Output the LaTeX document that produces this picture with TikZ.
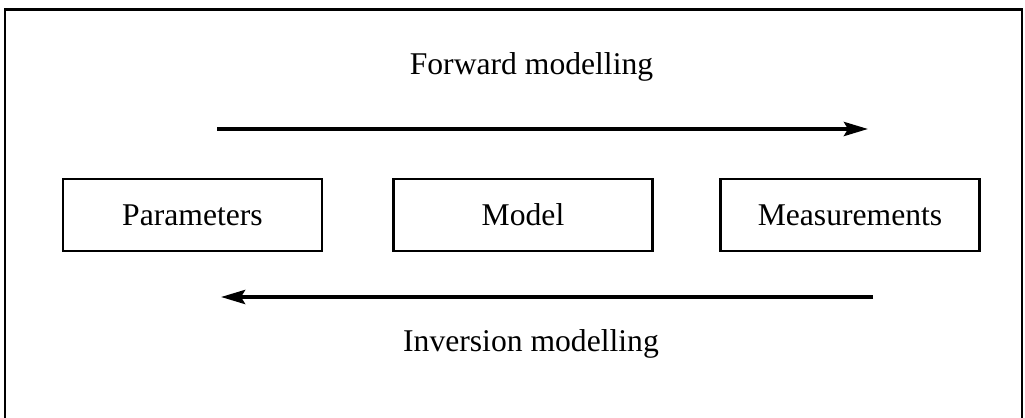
\documentclass[tikz,border=0pt]{standalone}
\usepackage{fontspec}
\setmainfont{Liberation Serif}
\usetikzlibrary{arrows.meta}
\tikzset{
  stagebox/.style={draw,line width=1.4pt,minimum width=5.18cm,minimum height=1.44cm,inner sep=0pt},
  flowarrow/.style={line width=2.2pt,-{Stealth[length=0.48cm,width=0.28cm,inset=0.08cm]}},
  flowlabel/.style={anchor=base}
}
\begin{document}
\fontsize{18}{21}\selectfont
\begin{tikzpicture}
\useasboundingbox (0,0) rectangle (20.5,8.34);
\draw [line width=1.4pt] (0.1,-0.3) rectangle (20.44,8.15);
\node[stagebox] (param) at (3.85,4.04) {Parameters};
\node[stagebox] (model) at (10.46,4.04) {Model};
\node[stagebox] (meas) at (17.0,4.04) {Measurements};
\coordinate (fwdstart) at (4.34,5.76);
\coordinate (fwdend) at (17.36,5.76);
\coordinate (invstart) at (17.46,2.4);
\coordinate (invend) at (4.42,2.4);
\draw [flowarrow] (fwdstart) -- (fwdend);
\draw [flowarrow] (invstart) -- (invend);
\node[flowlabel] (fwdlabel) at (10.63,6.84) {Forward modelling};
\node[flowlabel] (invlabel) at (10.62,1.32) {Inversion modelling};
\end{tikzpicture}
\end{document}
